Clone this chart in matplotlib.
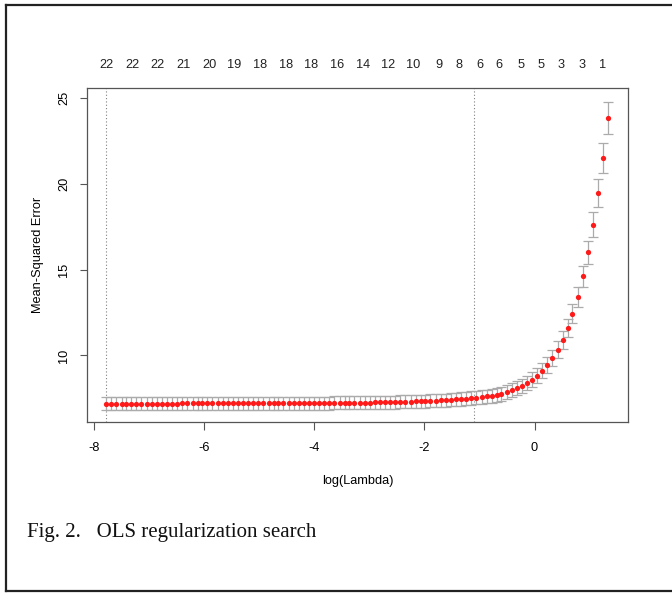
import matplotlib
matplotlib.use("Agg")
import matplotlib.pyplot as plt
from matplotlib.lines import Line2D
from matplotlib.transforms import blended_transform_factory

# ---------- data ----------

log_lambda = [
    -7.78, -7.69, -7.60, -7.50, -7.41, -7.32, -7.23, -7.14, -7.04, -6.95,
    -6.86, -6.77, -6.67, -6.58, -6.49, -6.40, -6.31, -6.21, -6.12, -6.03,
    -5.94, -5.85, -5.75, -5.66, -5.57, -5.48, -5.39, -5.29, -5.20, -5.11,
    -5.02, -4.93, -4.83, -4.74, -4.65, -4.56, -4.46, -4.37, -4.28, -4.19,
    -4.10, -4.00, -3.91, -3.82, -3.73, -3.64, -3.54, -3.45, -3.36, -3.27,
    -3.17, -3.08, -2.99, -2.90, -2.81, -2.71, -2.62, -2.53, -2.44, -2.35,
    -2.25, -2.16, -2.07, -1.98, -1.89, -1.79, -1.70, -1.61, -1.52, -1.43,
    -1.33, -1.24, -1.15, -1.06, -0.96, -0.87, -0.78, -0.69, -0.60, -0.50,
    -0.41, -0.32, -0.23, -0.14, -0.04, 0.05, 0.14, 0.23, 0.32, 0.42,
    0.51, 0.60, 0.69, 0.79, 0.88, 0.97, 1.06, 1.15, 1.25, 1.34,
]

mse = [
    7.19, 7.19, 7.19, 7.19, 7.19, 7.19, 7.19, 7.19, 7.19, 7.19,
    7.19, 7.19, 7.19, 7.19, 7.19, 7.20, 7.20, 7.20, 7.20, 7.20,
    7.20, 7.20, 7.20, 7.20, 7.20, 7.20, 7.20, 7.20, 7.20, 7.20,
    7.21, 7.21, 7.21, 7.21, 7.21, 7.21, 7.21, 7.21, 7.21, 7.21,
    7.22, 7.22, 7.22, 7.22, 7.22, 7.23, 7.23, 7.23, 7.23, 7.23,
    7.24, 7.25, 7.25, 7.26, 7.26, 7.27, 7.28, 7.28, 7.29, 7.30,
    7.31, 7.32, 7.33, 7.34, 7.35, 7.37, 7.38, 7.40, 7.42, 7.44,
    7.46, 7.48, 7.51, 7.54, 7.57, 7.61, 7.65, 7.69, 7.77, 7.85,
    7.96, 8.08, 8.21, 8.39, 8.59, 8.82, 9.11, 9.44, 9.85, 10.33,
    10.91, 11.59, 12.43, 13.42, 14.60, 16.01, 17.61, 19.45, 21.51, 23.84,
]

mse_se = [
    0.38, 0.38, 0.38, 0.38, 0.38, 0.38, 0.38, 0.38, 0.38, 0.38,
    0.38, 0.38, 0.38, 0.38, 0.38, 0.38, 0.38, 0.38, 0.38, 0.38,
    0.38, 0.38, 0.38, 0.38, 0.38, 0.38, 0.38, 0.38, 0.38, 0.38,
    0.38, 0.38, 0.38, 0.38, 0.38, 0.38, 0.38, 0.38, 0.38, 0.38,
    0.38, 0.38, 0.38, 0.38, 0.38, 0.38, 0.38, 0.38, 0.38, 0.38,
    0.38, 0.38, 0.38, 0.38, 0.38, 0.38, 0.38, 0.38, 0.38, 0.38,
    0.38, 0.38, 0.38, 0.38, 0.38, 0.38, 0.38, 0.38, 0.38, 0.39,
    0.39, 0.39, 0.39, 0.39, 0.39, 0.39, 0.40, 0.40, 0.40, 0.40,
    0.41, 0.41, 0.41, 0.42, 0.43, 0.44, 0.45, 0.46, 0.47, 0.49,
    0.51, 0.53, 0.56, 0.59, 0.62, 0.68, 0.74, 0.80, 0.87, 0.95,
]

# number of nonzero coefficients shown along the top
top_pos = [-7.78, -7.30, -6.84, -6.38, -5.91, -5.45, -4.99, -4.52, -4.05, -3.59,
           -3.12, -2.66, -2.20, -1.74, -1.37, -1.00, -0.64, -0.25, 0.12, 0.49,
           0.86, 1.23]
top_labels = ["22", "22", "22", "21", "20", "19", "18", "18", "18", "16",
              "14", "12", "10", "9", "8", "6", "6", "5", "5", "3",
              "3", "1"]

lambda_min = -7.78
lambda_1se = -1.10

x_ticks = [-8, -6, -4, -2, 0]
y_ticks = [10, 15, 20, 25]

caption = "Fig. 2.   OLS regularization search"

# ---------- plot ----------

plt.rcParams["font.family"] = ["Liberation Sans", "DejaVu Sans"]

W, H = 672, 593
fig = plt.figure(figsize=(W / 100, H / 100), dpi=100)
fig.patch.set_facecolor("white")

ax = fig.add_axes([87 / W, 1 - 422 / H, (628 - 87) / W, (422 - 88) / H])

ax.errorbar(log_lambda, mse, yerr=mse_se, fmt="none", ecolor="#ababab",
            elinewidth=0.9, capsize=3.8, capthick=0.9, zorder=2)
ax.plot(log_lambda, mse, "o", color="#ff1a1a", markersize=3.8,
        markeredgewidth=0, zorder=3)

for xv in (lambda_min, lambda_1se):
    ax.axvline(xv, color="#808080", linestyle=(0, (1, 2)), linewidth=0.8,
               zorder=1)

ax.set_xlim(-8.127, 1.698)
ax.set_ylim(6.12, 25.58)
ax.set_xticks(x_ticks)
ax.set_xticklabels([str(v) for v in x_ticks])
ax.set_yticks(y_ticks)
ax.set_yticklabels([str(v) for v in y_ticks], rotation=90, va="center")

for sp in ax.spines.values():
    sp.set_color("#555555")
    sp.set_linewidth(0.9)

ax.tick_params(axis="x", direction="out", length=5.8, width=0.8,
               color="#555555", labelsize=9.2, pad=8.5)
ax.tick_params(axis="y", direction="out", length=5.2, width=0.8,
               color="#555555", labelsize=9.2, pad=7)

ax.set_xlabel("log(Lambda)", fontsize=9.2, labelpad=15)
ax.set_ylabel("Mean-Squared Error", fontsize=9.2, labelpad=10)

# top axis: count of nonzero coefficients
trans = blended_transform_factory(ax.transData, fig.transFigure)
for xv, lab in zip(top_pos, top_labels):
    ax.text(xv, 1 - 65 / H, lab, transform=trans, ha="center", va="center",
            fontsize=9.2, color="#222222")

# caption below the chart
fig.text(27 / W, 1 - 532 / H, caption, family=["Liberation Serif", "DejaVu Serif"],
         fontsize=15, ha="left", va="center", color="#111111")

# outer frame of the figure panel
frame_kw = dict(color="#222222", linewidth=1.6, transform=fig.transFigure)
fig.add_artist(Line2D([5.5 / W, 1.0], [1 - 4.5 / H, 1 - 4.5 / H], **frame_kw))
fig.add_artist(Line2D([5.5 / W, 5.5 / W], [1 - 4.5 / H, 1 - 590.5 / H], **frame_kw))
fig.add_artist(Line2D([5.5 / W, 1.0], [1 - 590.5 / H, 1 - 590.5 / H], **frame_kw))

fig.savefig("out.png", dpi=100)
